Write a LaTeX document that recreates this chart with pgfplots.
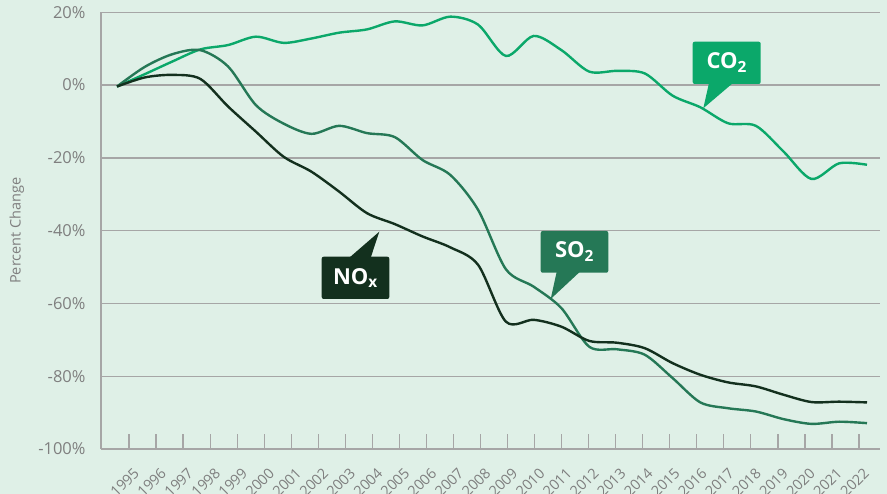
\documentclass[border=0pt]{standalone}
\usepackage{pgfplots}
\pgfplotsset{compat=1.18}
\usepackage{fontspec}
\setmainfont{Open Sans}
\definecolor{bg}{HTML}{DFF0E7}
\definecolor{gridc}{HTML}{A6A6A6}
\definecolor{tickc}{HTML}{7F7F7F}
\definecolor{coc}{HTML}{0BA86A}
\definecolor{soc}{HTML}{257856}
\definecolor{noc}{HTML}{13301E}
\begin{document}
\begin{tikzpicture}[x=1pt,y=1pt]
\fill[bg] (0,0) rectangle (887,494);
\useasboundingbox (0,0) rectangle (887,494);
\begin{axis}[
  at={(101pt,45pt)}, anchor=south west,
  scale only axis, width=779pt, height=436.7pt,
  xmin=1994.424, xmax=2022.468, ymin=-100, ymax=20,
  axis x line*=bottom, axis y line*=left,
  axis line style={gridc, line width=1.6pt, -},
  ytick={-100,-80,-60,-40,-20,0,20},
  yticklabel={\pgfmathprintnumber{\tick}\%},
  yticklabel style={font=\fontsize{16.5}{18}\selectfont, color=tickc, xshift=-12pt},
  ymajorgrids, grid style={gridc, line width=1.4pt},
  ytick style={draw=none},
  xtick={1995.432,1996.405,1997.379,1998.352,1999.326,2000.299,2001.272,2002.246,2003.219,2004.193,2005.166,2006.139,2007.113,2008.086,2009.060,2010.033,2011.006,2011.980,2012.953,2013.927,2014.900,2015.873,2016.847,2017.820,2018.794,2019.767,2020.740,2021.714},
  xticklabels={1995,1996,1997,1998,1999,2000,2001,2002,2003,2004,2005,2006,2007,2008,2009,2010,2011,2012,2013,2014,2015,2016,2017,2018,2019,2020,2021,2022},
  xticklabel style={font=\fontsize{14.5}{16}\selectfont, color=tickc, rotate=45, anchor=east, inner sep=0pt, xshift=-9.9pt, yshift=-20.5pt},
  tick align=inside, major tick length=15pt,
  xtick style={gridc, line width=1.2pt},
  /pgf/number format/assume math mode=true,
  ylabel={Percent Change},
  ylabel style={font=\fontsize{14.5}{16}\selectfont, color=tickc, at={(axis description cs:-0.108,0.5)}, anchor=center, rotate=0},
  clip=false,
]
\addplot[coc, line width=2.4pt, smooth] coordinates {
(1995,-0.4) (1996,3.0) (1997,6.5) (1998,9.8) (1999,11.0) (2000,13.3) (2001,11.6) (2002,12.8) (2003,14.4) (2004,15.3) (2005,17.5) (2006,16.4) (2007,18.8) (2008,16.6) (2009,8.0) (2010,13.5) (2011,9.6) (2012,3.7) (2013,3.9) (2014,3.2) (2015,-2.9) (2016,-6.1) (2017,-10.5) (2018,-11.2) (2019,-18.3) (2020,-25.8) (2021,-21.5) (2022,-21.9)};
\addplot[soc, line width=2.4pt, smooth] coordinates {
(1995,-0.4) (1996,5.0) (1997,8.5) (1998,9.6) (1999,5.1) (2000,-5.5) (2001,-10.6) (2002,-13.4) (2003,-11.2) (2004,-13.2) (2005,-14.3) (2006,-20.6) (2007,-24.7) (2008,-34.3) (2009,-50.6) (2010,-55.4) (2011,-61.3) (2012,-71.9) (2013,-72.6) (2014,-74.1) (2015,-80.5) (2016,-87.2) (2017,-88.8) (2018,-89.7) (2019,-91.8) (2020,-93.1) (2021,-92.5) (2022,-92.9)};
\addplot[noc, line width=2.4pt, smooth] coordinates {
(1995,-0.4) (1996,2.1) (1997,2.8) (1998,1.7) (1999,-5.9) (2000,-12.8) (2001,-19.7) (2002,-23.8) (2003,-29.3) (2004,-35.2) (2005,-38.2) (2006,-41.6) (2007,-44.6) (2008,-49.4) (2009,-65.0) (2010,-64.5) (2011,-66.4) (2012,-70.3) (2013,-70.8) (2014,-72.3) (2015,-76.4) (2016,-79.6) (2017,-81.7) (2018,-82.8) (2019,-85.1) (2020,-87.1) (2021,-87.0) (2022,-87.2)};
\end{axis}
% callouts
\fill[coc, rounded corners=2pt] (692.7,410) rectangle (760.7,452.3);
\fill[coc] (709,411) -- (733,411) -- (703.3,385.7) -- cycle;
\node[text=white, font=\fontsize{22}{24}\selectfont\bfseries] at (726.7,431.2) {CO\textsubscript{2}};
\fill[soc, rounded corners=2pt] (540.7,221.3) rectangle (608.3,263);
\fill[soc] (556.7,222.3) -- (580,222.3) -- (550.7,195) -- cycle;
\node[text=white, font=\fontsize{22}{24}\selectfont\bfseries] at (574.5,242.2) {SO\textsubscript{2}};
\fill[noc, rounded corners=2pt] (321.7,195) rectangle (389.3,237.3);
\fill[noc] (349.3,236.3) -- (370.7,236.3) -- (379.3,262.3) -- cycle;
\node[text=white, font=\fontsize{22}{24}\selectfont\bfseries] at (355.5,216.2) {NO\textsubscript{x}};
\end{tikzpicture}
\end{document}
